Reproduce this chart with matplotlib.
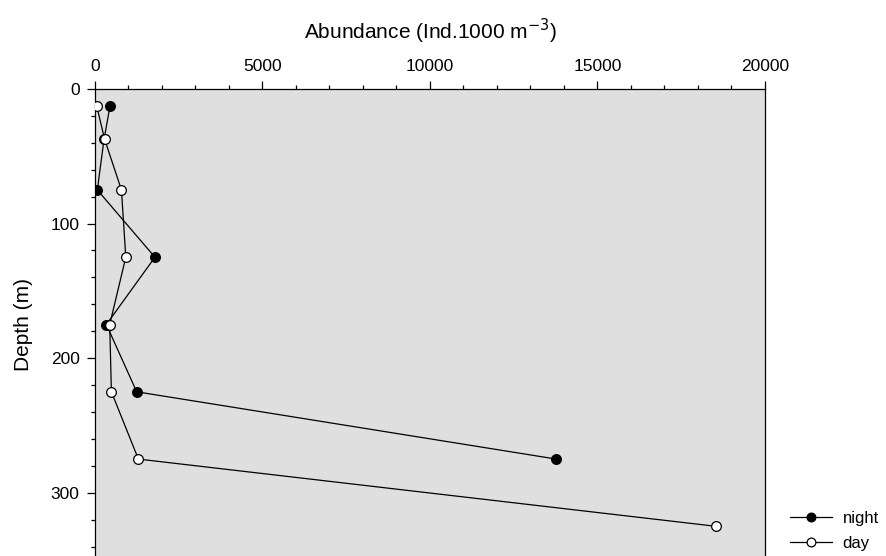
import numpy as np
import matplotlib
matplotlib.use("Agg")
import matplotlib.pyplot as plt

plt.rcParams['font.family'] = ['Liberation Sans', 'DejaVu Sans']

# depth of each sampling layer (m)
depth_night = [12.5, 37.5, 75, 125, 175, 225, 275]
night = [450, 270, 70, 1790, 340, 1245, 13770]

depth_day = [12.5, 37.5, 75, 125, 175, 225, 275, 325]
day = [50, 290, 790, 920, 440, 490, 1295, 18550]

fig = plt.figure(figsize=(8.86, 5.56), dpi=100)
ax = fig.add_axes([0.1072, -0.0072, 0.7562, 0.8471])
ax.set_facecolor("#dfdfdf")

ax.plot(night, depth_night, "-o", color="k", lw=0.9, ms=7,
        mfc="k", mec="k", mew=0.9, label="night", zorder=3)
ax.plot(day, depth_day, "-o", color="k", lw=0.9, ms=7,
        mfc="white", mec="k", mew=0.9, label="day", zorder=4)

ax.set_xlim(0, 20000)
ax.set_ylim(350, 0)
ax.xaxis.tick_top()
ax.xaxis.set_label_position("top")
ax.set_xticks(np.arange(0, 20001, 5000))
ax.set_xticks(np.arange(0, 20001, 1000), minor=True)
ax.set_yticks(np.arange(0, 301, 100))
ax.set_yticks(np.arange(0, 351, 20), minor=True)
ax.tick_params(which="major", length=5.5, width=0.9, labelsize=12.5, pad=5.5)
ax.tick_params(which="minor", length=3, width=0.9)
for s in ax.spines.values():
    s.set_linewidth(0.9)

ax.set_xlabel("Abundance (Ind.1000 m$^{-3}$)", fontsize=15, labelpad=14)
ax.set_ylabel("Depth (m)", fontsize=15, labelpad=13)

fig.legend(loc="upper left", bbox_to_anchor=(0.8916, 1 - 511 / 556),
           frameon=False, fontsize=12, handlelength=2.5, handletextpad=0.65,
           borderpad=0, borderaxespad=0, labelspacing=0.6, markerscale=0.9)

plt.savefig("out.png", dpi=100)
